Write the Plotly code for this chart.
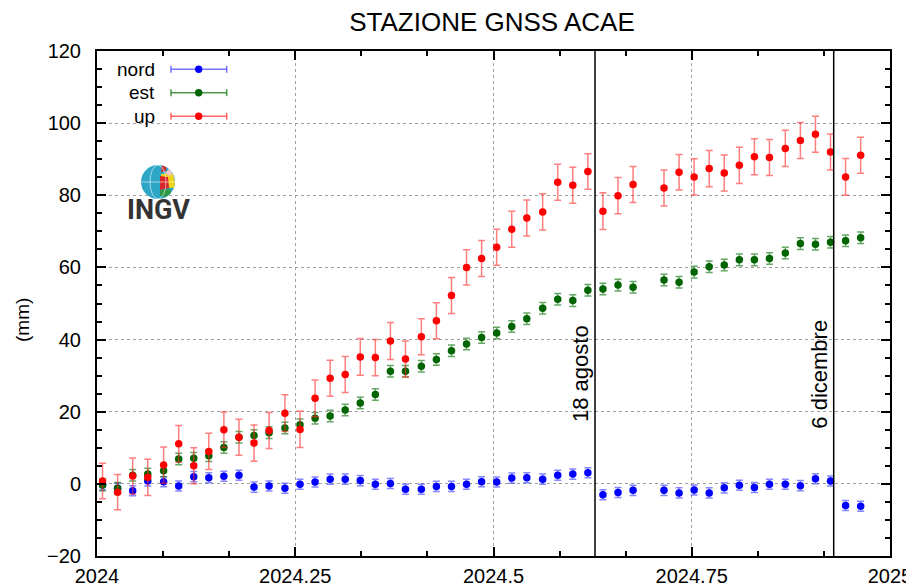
import plotly.graph_objects as go

# decimal-year epochs of the weekly solutions (one week missing after 18 agosto)
epochs = [2024.007, 2024.026, 2024.045, 2024.064, 2024.084, 2024.103, 2024.122, 2024.141,
          2024.160, 2024.179, 2024.198, 2024.217, 2024.237, 2024.256, 2024.275, 2024.294,
          2024.313, 2024.332, 2024.351, 2024.370, 2024.389, 2024.409, 2024.428, 2024.447,
          2024.466, 2024.485, 2024.504, 2024.523, 2024.542, 2024.562, 2024.581, 2024.600,
          2024.619, 2024.638, 2024.657, 2024.676, 2024.715, 2024.734, 2024.753, 2024.772,
          2024.791, 2024.810, 2024.829, 2024.848, 2024.868, 2024.887, 2024.906, 2024.925,
          2024.944, 2024.963]

nord = [-0.3, -1.2, -1.9, 0.8, 0.6, -0.6, 2.0, 1.7, 2.1, 2.4, -0.9, -0.6, -1.2, -0.1, 0.5, 1.3,
        1.3, 0.9, -0.1, 0.1, -1.5, -1.5, -0.7, -0.7, -0.1, 0.6, 0.5, 1.6, 1.7, 1.3, 2.4, 2.7,
        3.1, -3.0, -2.4, -1.8, -1.8, -2.5, -1.7, -2.5, -1.1, -0.4, -1.0, -0.1, -0.1, -0.5, 1.4,
        0.8, -6.0, -6.2]
est = [-0.3, -1.2, 2.4, 2.7, 3.6, 6.9, 7.1, 7.8, 10.1, 12.9, 13.4, 14.2, 15.5, 16.4, 18.2, 18.8,
       20.5, 22.4, 24.8, 31.2, 31.2, 32.6, 34.5, 36.9, 38.8, 40.6, 41.8, 43.6, 45.8, 48.7, 51.2,
       50.8, 53.7, 54.0, 55.1, 54.5, 56.5, 55.9, 58.7, 60.2, 60.7, 62.1, 62.1, 62.5, 64.0, 66.6,
       66.4, 67.0, 67.4, 68.2]
up = [0.8, -2.3, 2.2, 1.8, 5.2, 11.1, 5.0, 9.0, 15.0, 12.9, 11.3, 14.8, 19.6, 15.1, 23.7, 29.3,
      30.3, 35.2, 35.0, 39.6, 34.6, 40.8, 45.2, 52.2, 60.0, 62.5, 65.6, 70.6, 73.7, 75.4, 83.6,
      82.8, 86.6, 75.6, 79.9, 83.0, 82.0, 86.4, 85.1, 87.4, 86.2, 88.3, 90.7, 90.5, 93.0, 95.2,
      96.9, 92.0, 85.1, 91.1]

nord_err = [1.4, 1.4, 1.4, 1.4, 1.4, 1.4, 1.4, 1.4, 1.4, 1.4, 1.4, 1.4, 1.4, 1.4, 1.4, 1.4,
            1.4, 1.4, 1.4, 1.4, 1.4, 1.4, 1.4, 1.4, 1.4, 1.4, 1.4, 1.4, 1.4, 1.4, 1.4, 1.4,
            1.4, 1.4, 1.4, 1.4, 1.4, 1.4, 1.4, 1.4, 1.4, 1.4, 1.4, 1.4, 1.4, 1.4, 1.4, 1.4,
            1.4, 1.4]
est_err = [1.6, 1.6, 1.6, 1.6, 1.6, 1.6, 1.6, 1.6, 1.6, 1.6, 1.6, 1.6, 1.6, 1.6, 1.6, 1.6,
           1.6, 1.6, 1.6, 1.6, 1.6, 1.6, 1.6, 1.6, 1.6, 1.6, 1.6, 1.6, 1.6, 1.6, 1.6, 1.6,
           1.6, 1.6, 1.6, 1.6, 1.6, 1.6, 1.6, 1.6, 1.6, 1.6, 1.6, 1.6, 1.6, 1.6, 1.6, 1.6,
           1.6, 1.6]
up_err = [4.9, 4.9, 5.0, 5.0, 5.0, 5.1, 5.0, 5.0, 4.9, 5.0, 5.0, 5.0, 5.1, 5.0, 5.1, 5.0,
          5.0, 5.1, 5.0, 5.1, 5.0, 5.0, 5.0, 5.0, 4.9, 5.0, 5.0, 5.0, 5.0, 5.0, 5.0, 5.0,
          4.9, 5.1, 5.0, 5.0, 5.0, 4.9, 5.0, 5.0, 5.0, 5.0, 5.0, 5.0, 5.0, 5.0, 5.0, 5.0,
          5.1, 5.0]

x_tickvals = [2024, 2024.25, 2024.5, 2024.75, 2025]
x_ticktext = ["2024", "2024.25", "2024.5", "2024.75", "2025"]

events = [2024.628, 2024.929]
event_labels = ["18 agosto", "6 dicembre"]

series = [
    ("nord", nord, nord_err, "#0000ff", "rgba(70,70,255,0.65)"),
    ("est", est, est_err, "#006400", "rgba(0,110,0,0.6)"),
    ("up", up, up_err, "#ff0000", "rgba(255,40,40,0.6)"),
]

FONT = "Liberation Sans, Arial, sans-serif"
PW, PH = 793.0, 505.0   # plot area in pixels (left 97, top 51 on the page)


def px(x):
    return (x - 97) / PW


def py(y):
    return (556 - y) / PH


fig = go.Figure()
for name, vals, errs, col, ecol in series:
    fig.add_trace(go.Scatter(
        x=epochs, y=vals, mode="markers", name=name, showlegend=False,
        marker=dict(color=col, size=7.5),
        error_y=dict(type="data", array=errs, color=ecol, thickness=1.5, width=3.5),
    ))

shapes = []
annotations = []

# event lines + labels
for ex, lab in zip(events, event_labels):
    shapes.append(dict(type="line", xref="x", yref="paper", x0=ex, x1=ex, y0=0, y1=1,
                       line=dict(color="black", width=1.5)))
    annotations.append(dict(x=ex, xref="x", y=py(374), yref="paper", text=lab, textangle=-90,
                            xanchor="center", yanchor="middle", showarrow=False, xshift=-15,
                            font=dict(family=FONT, size=22, color="black")))

# key box (gnuplot style, text on the left of the sample)
shapes.append(dict(type="rect", xref="paper", yref="paper", x0=0, x1=px(238), y0=py(128), y1=1,
                   fillcolor="white", line=dict(width=0), layer="between"))
key_rows = [("nord", 69.3, "#0000ff", "rgba(70,70,255,0.75)"),
            ("est", 92.7, "#006400", "rgba(0,110,0,0.7)"),
            ("up", 116.3, "#ff0000", "rgba(255,40,40,0.7)")]
for lab, ky, col, ecol in key_rows:
    yp = py(ky)
    xa, xb, xc = px(171), px(226.7), px(198.7)
    shapes.append(dict(type="line", xref="paper", yref="paper", x0=xa, x1=xb, y0=yp, y1=yp,
                       line=dict(color=ecol, width=1.5)))
    for xe in (xa, xb):
        shapes.append(dict(type="line", xref="paper", yref="paper", xsizemode="pixel", ysizemode="pixel",
                           xanchor=xe, yanchor=yp, x0=0, x1=0, y0=-3.5, y1=3.5,
                           line=dict(color=ecol, width=1.5)))
    shapes.append(dict(type="circle", xref="paper", yref="paper", xsizemode="pixel", ysizemode="pixel",
                       xanchor=xc, yanchor=yp, x0=-3.7, x1=3.7, y0=-3.7, y1=3.7,
                       fillcolor=col, line=dict(width=0)))
    annotations.append(dict(x=px(157), y=yp, xref="paper", yref="paper", text=lab,
                            xanchor="right", yanchor="middle", showarrow=False,
                            font=dict(family=FONT, size=19, color="black")))

# INGV logo
shapes.append(dict(type="rect", xref="paper", yref="paper", x0=0, x1=px(201),
                   y0=py(232), y1=py(160), fillcolor="white",
                   line=dict(width=0), layer="between"))
gx, gy = px(158), py(182)
globe = dict(xref="paper", yref="paper", xsizemode="pixel", ysizemode="pixel", xanchor=gx, yanchor=gy)
shapes.append(dict(type="circle", x0=-17, x1=17, y0=-17, y1=17, fillcolor="#2ea6c6",
                   line=dict(width=0), **globe))
shapes.append(dict(type="path", path="M -17,0 A 17,17 0 0,0 0,-17 L 0,0 Z", fillcolor="#1f86b3",
                   line=dict(width=0), **globe))
shapes.append(dict(type="path", path="M 3,8 L 14.7,8.5 L 17,0 L 16,-5.8 L 4,-6 Z", fillcolor="#f2d31b",
                   line=dict(width=0), **globe))
shapes.append(dict(type="path", path="M 7,9 L 11,13 L 14.7,8.5 L 11,6 Z", fillcolor="#f3c6c6",
                   line=dict(width=0), **globe))
shapes.append(dict(type="path", path="M 2,6 L 10,5 L 11,-6 L 2,-8 Z", fillcolor="#d7262b",
                   line=dict(width=0), **globe))
shapes.append(dict(type="path", path="M 2,-8 L 12,-7 L 13,-10.9 L 8.5,-14.7 L 2,-14 Z", fillcolor="#2f9a46",
                   line=dict(width=0), **globe))
shapes.append(dict(type="path", path="M 3,10 L 8,11 L 8.5,14.7 L 4,16.5 Z", fillcolor="#cc2f35",
                   line=dict(width=0), **globe))
shapes.append(dict(type="circle", x0=-8, x1=8, y0=-17, y1=17, fillcolor="rgba(0,0,0,0)",
                   line=dict(color="rgba(255,255,255,0.7)", width=0.8), **globe))
shapes.append(dict(type="line", x0=-17, x1=17, y0=0, y1=0,
                   line=dict(color="rgba(255,255,255,0.7)", width=0.8), **globe))
annotations.append(dict(x=gx, y=py(210.5), xref="paper", yref="paper", text="<b>INGV</b>",
                        showarrow=False, xanchor="center", yanchor="middle",
                        font=dict(family="Liberation Sans Narrow, Roboto, sans-serif",
                                  size=27, color="#333333")))

# y axis title
annotations.append(dict(x=px(22), y=py(320), xref="paper", yref="paper", text="(mm)", textangle=-90,
                        xanchor="center", yanchor="middle", showarrow=False,
                        font=dict(family=FONT, size=19, color="black")))

axis_common = dict(
    showline=True, linecolor="black", linewidth=2, mirror="allticks",
    ticks="inside", ticklen=9, tickwidth=1.5, tickcolor="black",
    showgrid=True, gridcolor="#a0a0a0", gridwidth=1.2, griddash="3px,3px",
    zeroline=False, automargin=False, tickfont=dict(family=FONT, size=20, color="black"),
)

# the page body adds an 8px offset, so the figure is 8px smaller than the window
fig.update_layout(
    width=906, height=578,
    margin=dict(l=89, r=24, t=43, b=30),
    paper_bgcolor="white", plot_bgcolor="white",
    title=dict(text="STAZIONE GNSS ACAE", xref="paper", x=px(492), xanchor="center",
               yref="container", y=0.976, yanchor="middle",
               font=dict(family=FONT, size=26, color="black")),
    xaxis=dict(range=[2024, 2025], tickmode="array", tickvals=x_tickvals, ticktext=x_ticktext,
               ticklabelstandoff=1,
               minor=dict(tickmode="linear", tick0=2024, dtick=1 / 12, ticks="inside", ticklen=5,
                          tickwidth=1.5, tickcolor="black", showgrid=False),
               **axis_common),
    yaxis=dict(range=[-20, 120], tickmode="linear", tick0=-20, dtick=20, ticklabelstandoff=10,
               minor=dict(tickmode="linear", tick0=-20, dtick=5, ticks="inside", ticklen=5,
                          tickwidth=1.5, tickcolor="black", showgrid=False),
               **axis_common),
    shapes=shapes,
    annotations=annotations,
    showlegend=False,
)

fig.write_html("out.html")
